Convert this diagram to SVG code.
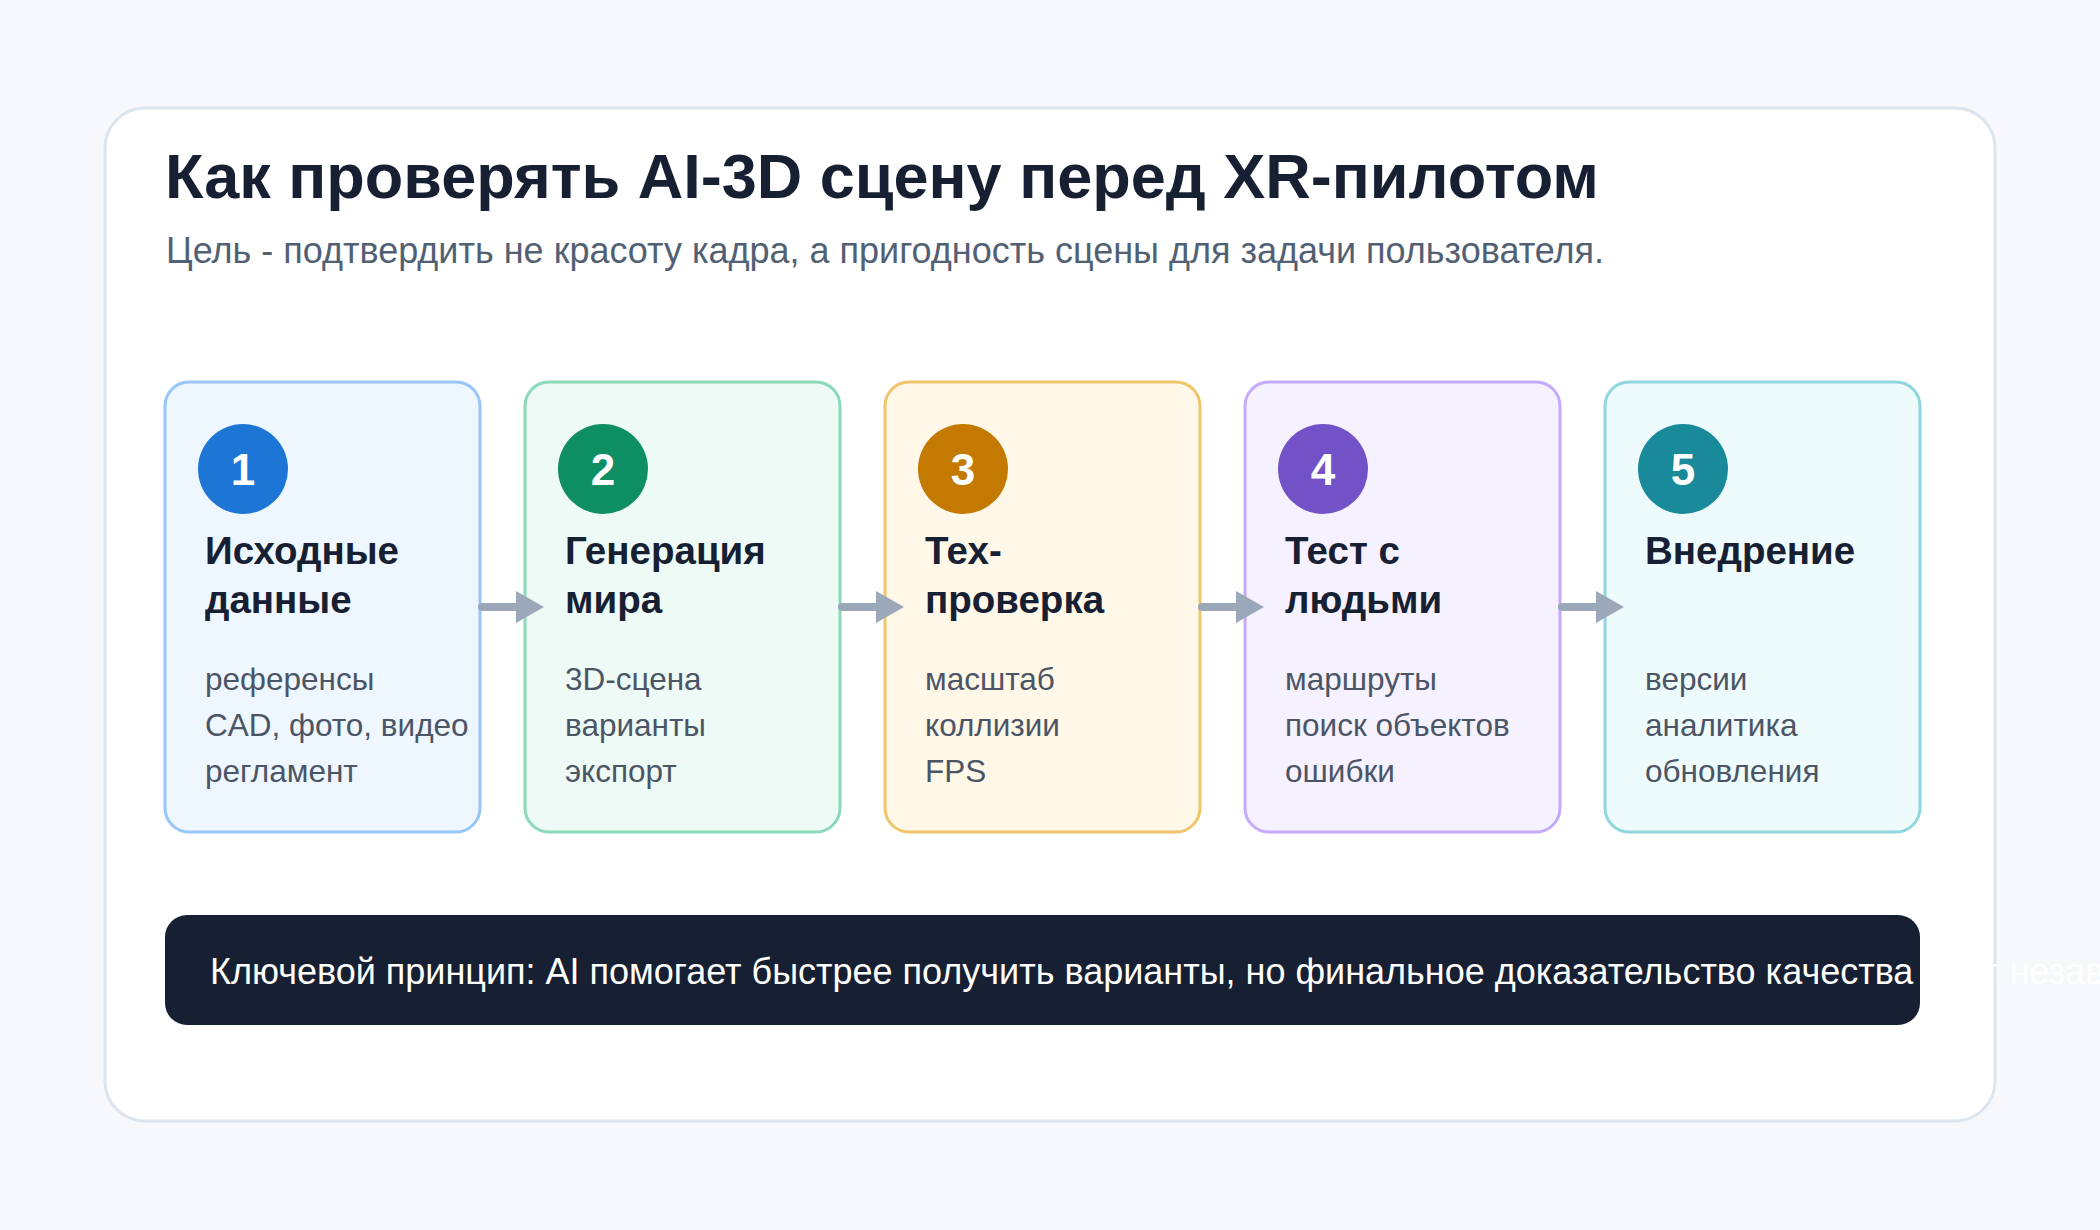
<svg xmlns="http://www.w3.org/2000/svg" width="2100" height="1230" viewBox="0 0 2100 1230">
<defs>
<style>
.title{font-family:"Liberation Sans",Arial,sans-serif;font-weight:700;font-size:63px;fill:#172033}
.sub{font-family:"Liberation Sans",Arial,sans-serif;font-size:36px;fill:#526074}
.num{font-family:"Liberation Sans",Arial,sans-serif;font-weight:700;font-size:44px;fill:#ffffff;text-anchor:middle}
.nt{font-family:"Liberation Sans",Arial,sans-serif;font-weight:700;font-size:38.5px;fill:#172033}
.nb{font-family:"Liberation Sans",Arial,sans-serif;font-size:31.5px;fill:#4b5565}
.ban{font-family:"Liberation Sans",Arial,sans-serif;font-size:36px;fill:#ffffff}
.conn{stroke:#9aa8ba;stroke-width:8;fill:none;stroke-linecap:round}
</style>
<marker id="ah" markerUnits="userSpaceOnUse" markerWidth="28" markerHeight="32" refX="0" refY="16" orient="auto" viewBox="0 0 28 32">
<path d="M0,0 L28,16 L0,32 Z" fill="#9aa8ba"/>
</marker>
</defs>
<rect width="2100" height="1230" fill="#f6f8fc"/>
<rect x="105" y="108" width="1890" height="1013" rx="40" fill="#ffffff" stroke="#dce4ee" stroke-width="3"/>
<text class="title" x="165" y="198">Как проверять AI-3D сцену перед XR-пилотом</text>
<text class="sub" x="166" y="263">Цель - подтвердить не красоту кадра, а пригодность сцены для задачи пользователя.</text>

<g id="node1">
<rect x="165" y="382" width="315" height="450" rx="24" fill="#eef6ff" stroke="#98c6fb" stroke-width="3"/>
<circle cx="243" cy="469" r="45" fill="#1d76d6"/>
<text class="num" x="243" y="485">1</text>
<text class="nt" x="205" y="564">Исходные</text>
<text class="nt" x="205" y="613">данные</text>
<text class="nb" x="205" y="690">референсы</text>
<text class="nb" x="205" y="736">CAD, фото, видео</text>
<text class="nb" x="205" y="782">регламент</text>
</g>
<g id="node2">
<rect x="525" y="382" width="315" height="450" rx="24" fill="#eefaf5" stroke="#8ad9b9" stroke-width="3"/>
<circle cx="603" cy="469" r="45" fill="#0e8f63"/>
<text class="num" x="603" y="485">2</text>
<text class="nt" x="565" y="564">Генерация</text>
<text class="nt" x="565" y="613">мира</text>
<text class="nb" x="565" y="690">3D-сцена</text>
<text class="nb" x="565" y="736">варианты</text>
<text class="nb" x="565" y="782">экспорт</text>
</g>
<g id="node3">
<rect x="885" y="382" width="315" height="450" rx="24" fill="#fff8e8" stroke="#f0c56c" stroke-width="3"/>
<circle cx="963" cy="469" r="45" fill="#c47a00"/>
<text class="num" x="963" y="485">3</text>
<text class="nt" x="925" y="564">Тех-</text>
<text class="nt" x="925" y="613">проверка</text>
<text class="nb" x="925" y="690">масштаб</text>
<text class="nb" x="925" y="736">коллизии</text>
<text class="nb" x="925" y="782">FPS</text>
</g>
<g id="node4">
<rect x="1245" y="382" width="315" height="450" rx="24" fill="#f5f1ff" stroke="#c5a9fb" stroke-width="3"/>
<circle cx="1323" cy="469" r="45" fill="#7352c7"/>
<text class="num" x="1323" y="485">4</text>
<text class="nt" x="1285" y="564">Тест с</text>
<text class="nt" x="1285" y="613">людьми</text>
<text class="nb" x="1285" y="690">маршруты</text>
<text class="nb" x="1285" y="736">поиск объектов</text>
<text class="nb" x="1285" y="782">ошибки</text>
</g>
<g id="node5">
<rect x="1605" y="382" width="315" height="450" rx="24" fill="#eefbfc" stroke="#90d6df" stroke-width="3"/>
<circle cx="1683" cy="469" r="45" fill="#188a99"/>
<text class="num" x="1683" y="485">5</text>
<text class="nt" x="1645" y="564">Внедрение</text>
<text class="nb" x="1645" y="690">версии</text>
<text class="nb" x="1645" y="736">аналитика</text>
<text class="nb" x="1645" y="782">обновления</text>
</g>

<g id="connectors">
<line class="conn" x1="482" y1="607" x2="516" y2="607" marker-end="url(#ah)"/>
<line class="conn" x1="842" y1="607" x2="876" y2="607" marker-end="url(#ah)"/>
<line class="conn" x1="1202" y1="607" x2="1236" y2="607" marker-end="url(#ah)"/>
<line class="conn" x1="1562" y1="607" x2="1596" y2="607" marker-end="url(#ah)"/>
</g>

<g id="banner">
<rect x="165" y="915" width="1755" height="110" rx="22" fill="#172033"/>
<text class="ban" x="210" y="984">Ключевой принцип: AI помогает быстрее получить варианты, но финальное доказательство качества дает независимая проверка.</text>
</g>
</svg>
